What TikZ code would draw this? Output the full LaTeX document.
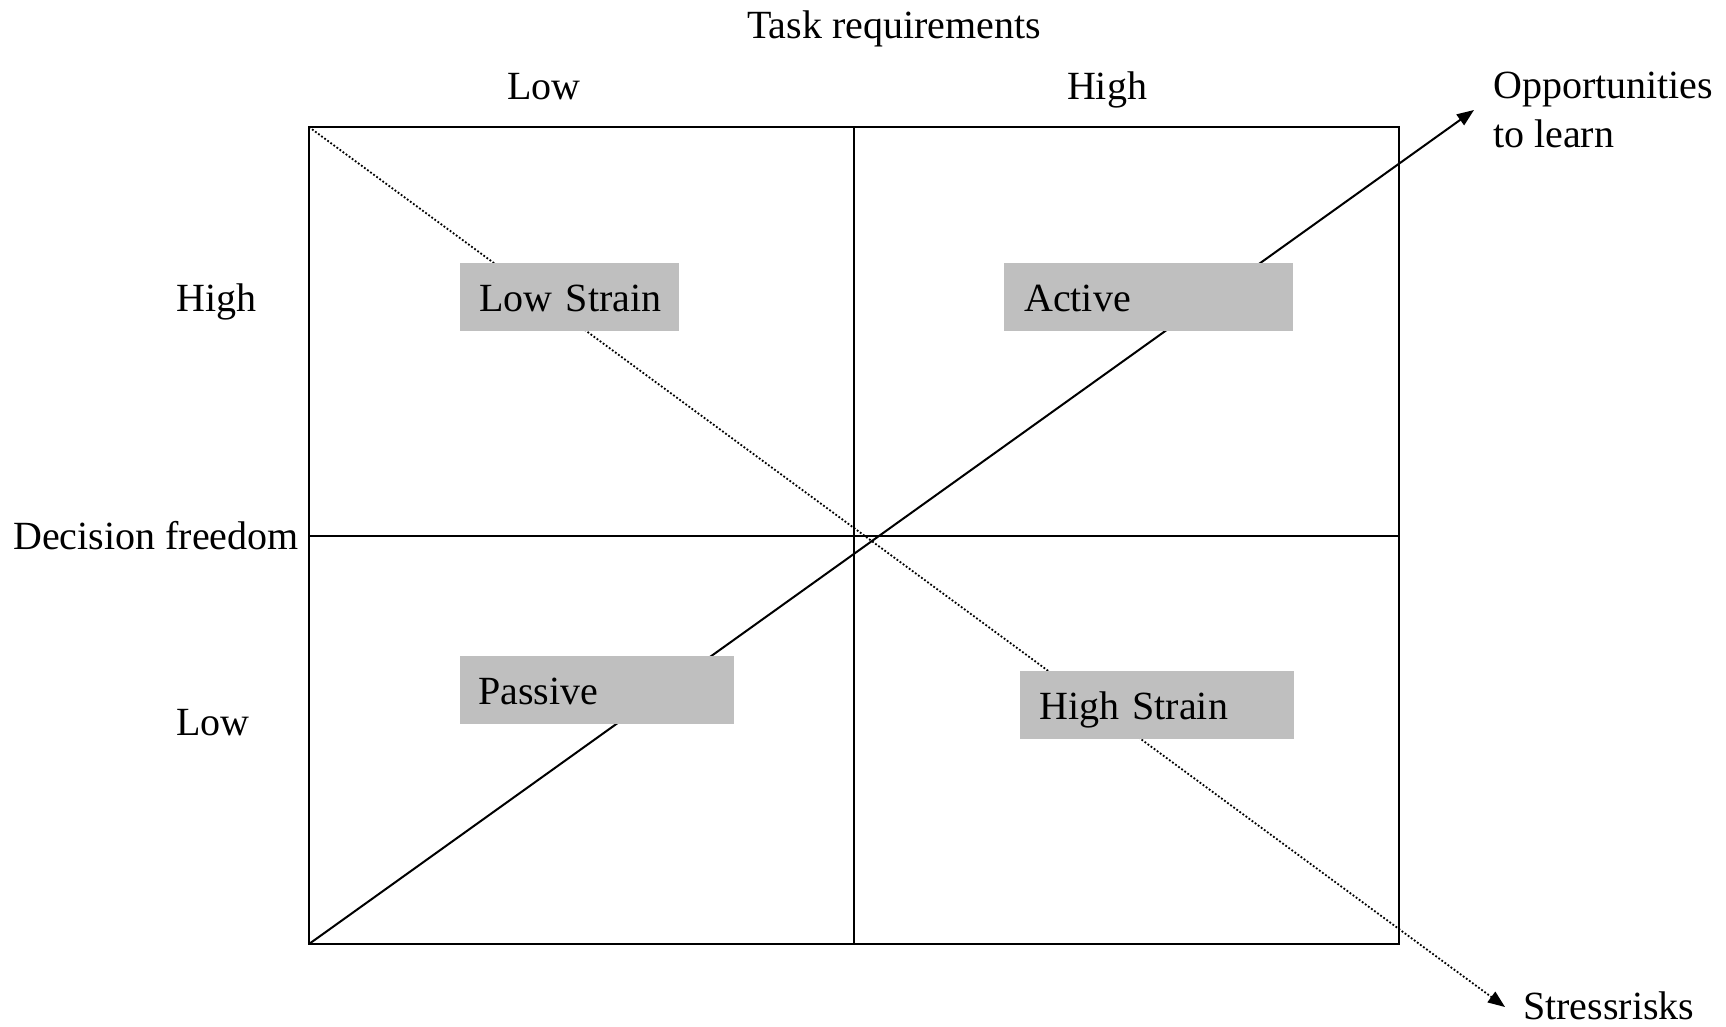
\documentclass[tikz,border=0pt]{standalone}
\usepackage{fontspec}
\setmainfont{Liberation Serif}
\usetikzlibrary{arrows.meta}
\begin{document}
\begin{tikzpicture}[x=1pt,y=-1pt,
  every node/.style={font=\fontsize{40}{49}\selectfont, inner sep=0pt},
  frame/.style={line width=2pt, line cap=rect},
  axisline/.style={line width=2pt},
  trend/.style={line width=2pt, -{Triangle[length=17pt,width=13pt]}},
  riskline/.style={line width=1.8pt, dotted, -{Triangle[length=17pt,width=13pt]}},
  quadbox/.style={fill=black!25, anchor=north west, inner xsep=0pt,
    inner ysep=10pt, text height=38pt, text depth=10pt, align=left}
]
\useasboundingbox (0,0) rectangle (1726,1026);

% grid corners
\coordinate (tl) at (309,127);
\coordinate (tr) at (1399,127);
\coordinate (bl) at (309,944);
\coordinate (br) at (1399,944);
\coordinate (tm) at (854,127);
\coordinate (bm) at (854,944);
\coordinate (lm) at (309,536);
\coordinate (rm) at (1399,536);

% two-by-two frame
\draw[frame] (tl) rectangle (br);
\draw[axisline] (tm) -- (bm);
\draw[axisline] (lm) -- (rm);

% axis labels
\node[anchor=base] (task) at (894,38) {Task requirements};
\node[anchor=base] (tlow) at (544,99) {Low};
\node[anchor=base] (thigh) at (1107,99) {High};
\node[anchor=base west] (lhigh) at (176,311) {High};
\node[anchor=base east] (dec) at (299,549) {Decision freedom};
\node[anchor=base west] (llow) at (176,735) {Low};

% end labels of the diagonals
\node[anchor=base west, align=left] (learn) at (1493,147) {Opportunities\\to learn};
\node[anchor=base west] (stress) at (1523,1019) {Stressrisks};
\coordinate (learntip) at (1474,110);
\coordinate (stresstip) at (1505,1007);

% diagonals
\draw[trend] (bl) -- (learntip);
\draw[riskline] (tl) -- (stresstip);

% quadrant labels
\node[quadbox, text width=219pt] (lowstrain) at (460,263) {\hspace*{19pt}Low Strain};
\node[quadbox, text width=289pt] (active) at (1004,263) {\hspace*{20pt}Active};
\node[quadbox, text width=274pt] (passive) at (460,656) {\hspace*{18pt}Passive};
\node[quadbox, text width=274pt] (highstrain) at (1020,671) {\hspace*{19pt}High Strain};
\end{tikzpicture}
\end{document}
